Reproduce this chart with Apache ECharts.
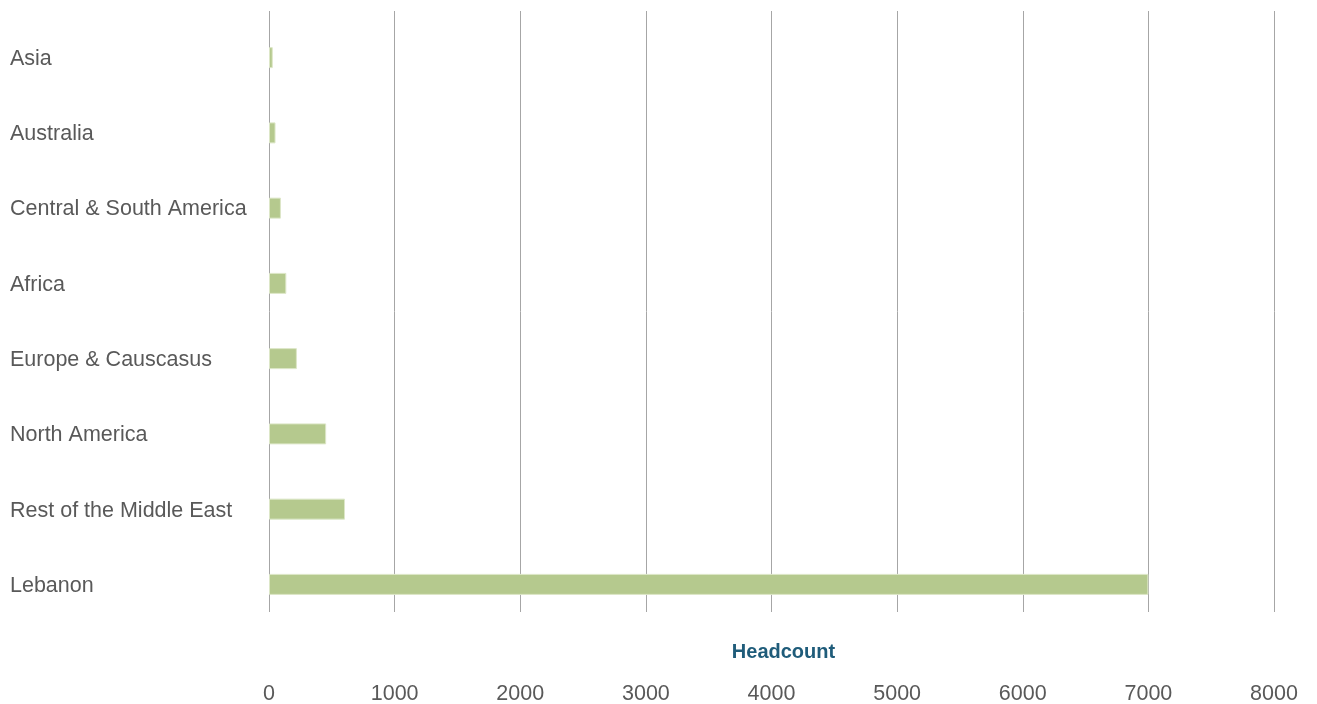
<!DOCTYPE html>
<html>
<head>
<meta charset="utf-8">
<script src="https://cdn.jsdelivr.net/npm/echarts@6/dist/echarts.min.js"></script>
<style>html,body{margin:0;padding:0;background:#fff}#c{width:1317px;height:704px}</style>
</head>
<body>
<div id="c"></div>
<script>
const categories = ['Asia','Australia','Central & South America','Africa','Europe & Causcasus','North America','Rest of the Middle East','Lebanon'];
const headcount = [30, 52, 95, 138, 222, 455, 605, 7000];
const xTicks = [0, 8000, 1000];
const axisTitle = 'Headcount';

const FONT = 'Liberation Sans';
const chart = echarts.init(document.getElementById('c'));
chart.setOption({
  animation: false,
  grid: [
    {left: 269, right: 43, top: 11, bottom: 92, outerBoundsMode: 'none', containLabel: false},
    {left: 269, right: 43, top: 20, bottom: 82, outerBoundsMode: 'none', containLabel: false},
    {left: 269, right: 43, top: 21, bottom: 80, outerBoundsMode: 'none', containLabel: false}
  ],
  xAxis: [{
    gridIndex: 0, type: 'value', min: xTicks[0], max: xTicks[1], interval: xTicks[2],
    name: axisTitle, nameLocation: 'middle', nameGap: 30, nameMoveOverlap: false,
    nameTextStyle: {color: '#1F5C7A', fontWeight: 'bold', fontSize: 20, fontFamily: FONT, padding: [0,0,0,24]},
    axisLine: {show: false}, axisTick: {show: false},
    axisLabel: {color: '#595959', fontSize: 21.5, fontFamily: FONT, margin: 71, formatter: v => String(v)},
    splitLine: {show: true, lineStyle: {color: '#A6A6A6', width: 1}}
  }, {
    gridIndex: 1, type: 'value', min: xTicks[0], max: xTicks[1], interval: xTicks[2], show: false,
    splitLine: {show: false}
  }, {
    gridIndex: 2, type: 'value', min: xTicks[0], max: xTicks[1], interval: xTicks[2], show: false,
    splitLine: {show: false}
  }],
  yAxis: [{
    gridIndex: 0, type: 'category', data: categories, inverse: true, show: false
  }, {
    gridIndex: 1, type: 'category', data: categories, inverse: true, show: false
  }, {
    gridIndex: 2, type: 'category', data: categories, inverse: true,
    axisLine: {show: false}, axisTick: {show: false},
    axisLabel: {color: '#595959', fontSize: 21.5, fontFamily: FONT, align: 'left', margin: 259},
    splitLine: {show: false}
  }],
  series: [{
    type: 'bar', xAxisIndex: 1, yAxisIndex: 1, data: headcount, barWidth: 21,
    itemStyle: {color: '#B5C98E', borderColor: '#DDE7C8', borderWidth: 1}
  }]
});
</script>
</body>
</html>
